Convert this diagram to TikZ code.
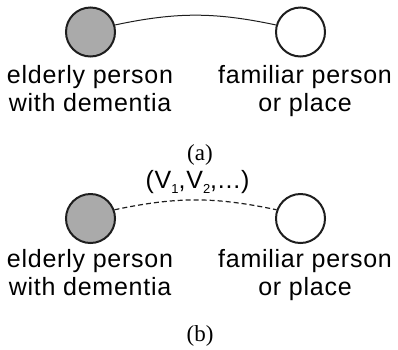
\documentclass[tikz,border=0pt]{standalone}
\usepackage{fontspec}
\setmainfont{Liberation Serif}
\newfontfamily\lblfont[LetterSpace=3]{Liberation Sans}
\definecolor{dotgray}{RGB}{170,170,170}
\definecolor{edge}{RGB}{30,30,30}
\begin{document}
\begin{tikzpicture}[x=1pt,y=-1pt,
  person/.style={circle,draw=edge,line width=2pt,minimum size=49pt,inner sep=0pt},
  elder/.style={person,fill=dotgray},
  place/.style={person,fill=white},
  lbl/.style={align=center,inner sep=0pt,font=\lblfont\fontsize{25}{28}\selectfont},
  captxt/.style={inner sep=0pt,font=\fontsize{23}{26}\selectfont},
  link/.style={line width=1pt,draw=edge},
  seq/.style={line width=1.2pt,draw=edge,dash pattern=on 5pt off 3pt}]
\useasboundingbox (0,0) rectangle (398,349);
% (a)
\node[elder] (ea) at (90.5,32) {};
\node[place] (pa) at (300.5,32) {};
\draw[link] (ea.16) to[bend left=12] (pa.164);
\node[lbl,anchor=base] (ela) at (90,111) {elderly person\\with dementia};
\node[lbl,anchor=base] (pla) at (305,111) {familiar person\\or place};
\node[captxt] (capa) at (200,155) {(a)};
% (b)
\node[elder] (eb) at (90.5,218.5) {};
\node[place] (pb) at (300.5,218.5) {};
\draw[seq] (eb.20) to[bend left=12] (pb.160);
\node[lbl,anchor=base] (seqlbl) at (197.5,188) {(V\raisebox{-5pt}{\fontsize{13}{13}\selectfont 1},V\raisebox{-5pt}{\fontsize{13}{13}\selectfont 2},...)};
\node[lbl,anchor=base] (elb) at (90,295) {elderly person\\with dementia};
\node[lbl,anchor=base] (plb) at (305,295) {familiar person\\or place};
\node[captxt] (capb) at (200,335.5) {(b)};
\end{tikzpicture}
\end{document}
